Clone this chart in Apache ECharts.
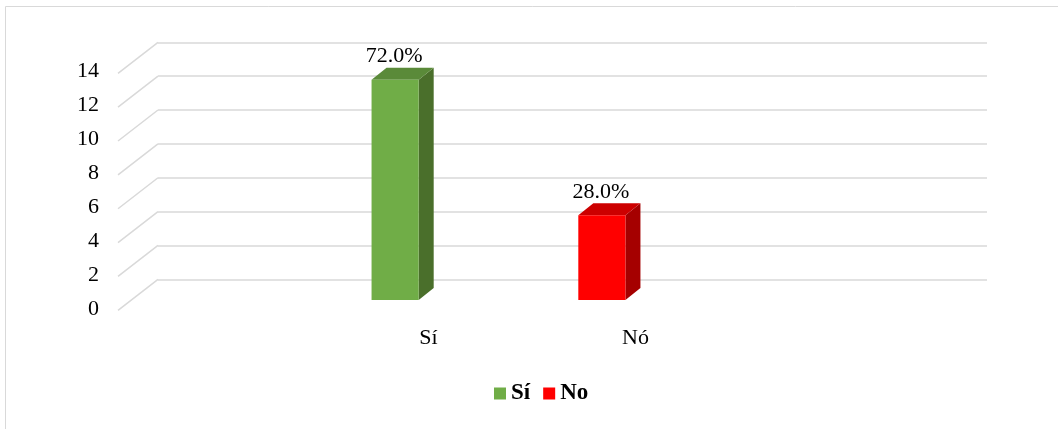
<!DOCTYPE html>
<html lang="es">
<head>
    <meta charset="UTF-8">
    <title>Sí / No</title>
    <style>
        html, body, #main {
            width: 100%;
            height: 100%;
            margin: 0;
            padding: 0;
            background: #fff;
        }
    </style>
    <script src="https://cdn.jsdelivr.net/npm/echarts@6/dist/echarts.min.js"></script>
</head>
<body>
    <div id="main"></div>
    <script>
        // data
        const categories = ['', 'Sí', 'Nó', ''];
        const seriesNames = ['Sí', 'No'];
        const siValues = [null, 13, null, null];
        const noValues = [null, null, 5, null];
        // percentages printed above the bars (as given in the source)
        const siPercent = [null, 72.0, null, null];
        const noPercent = [null, null, 28.0, null];
        const yTicks = [0, 2, 4, 6, 8, 10, 12, 14];

        const FONT = '"Liberation Serif", "Times New Roman", serif';

        // 3d look: depth offset of the wall and of the bars
        const wallDx = -40, wallDy = 31;
        const barDx = 15, barDy = -12;

        const toData = (vals, pcts) => vals
            .map((v, i) => v == null ? null : [i, v, pcts[i]])
            .filter(d => d);

        function bar3d(front, top, side) {
            return function (params, api) {
                const i = api.value(0), v = api.value(1);
                const p = api.coord([i, v]);
                const p0 = api.coord([i, 0]);
                const w = api.size([1, 0])[0] * 0.228;
                const l = p[0] - w / 2, r = p[0] + w / 2;
                const yt = p[1], yb = p0[1];
                const pct = api.value(2).toFixed(1) + '%';
                return {
                    type: 'group',
                    children: [
                        { type: 'polygon', shape: { points: [[r, yt], [r + barDx, yt + barDy], [r + barDx, yb + barDy], [r, yb]] },
                          style: { fill: side } },
                        { type: 'polygon', shape: { points: [[l, yt], [l + barDx, yt + barDy], [r + barDx, yt + barDy], [r, yt]] },
                          style: { fill: top } },
                        { type: 'rect', shape: { x: l, y: yt, width: w, height: yb - yt },
                          style: { fill: front } },
                        { type: 'text', x: p[0] - 1, y: yt + barDy,
                          style: { text: pct, fill: '#000', font: '22px ' + FONT, align: 'center', verticalAlign: 'bottom' } }
                    ]
                };
            };
        }

        var chart = echarts.init(document.getElementById('main'));

        var option = {
            animation: false,
            graphic: [{
                type: 'rect',
                shape: { x: 5.5, y: 6.5, width: 1200, height: 600 },
                style: { fill: 'none', stroke: '#d9d9d9', lineWidth: 1 },
                silent: true
            }],
            legend: {
                bottom: 19,
                left: 489,
                icon: 'rect',
                itemWidth: 12,
                itemHeight: 12,
                itemGap: 13,
                textStyle: { fontFamily: FONT, fontSize: 23, fontWeight: 'bold', color: '#000' },
                data: [
                    { name: seriesNames[0], itemStyle: { color: '#70ad47' } },
                    { name: seriesNames[1], itemStyle: { color: '#ff0000' } }
                ]
            },
            grid: [
                // back wall
                { left: 158, right: 71, top: 42.3, bottom: 149.7 },
                // front plane (axis labels)
                { left: 118, right: 112, top: 71.7, bottom: 119.7 },
                // bars plane
                { left: 85, right: 146, top: 62.7, bottom: 129 }
            ],
            xAxis: [0, 1, 2].map(g => ({
                type: 'category',
                gridIndex: g,
                data: categories,
                axisLine: { show: false },
                axisTick: { show: false },
                axisLabel: g === 1
                    ? { show: true, margin: 18, fontFamily: FONT, fontSize: 22, color: '#000' }
                    : { show: false }
            })),
            yAxis: [0, 1, 2].map(g => ({
                type: 'value',
                gridIndex: g,
                min: 0,
                max: 14,
                interval: 2,
                axisLine: { show: false },
                axisTick: { show: false },
                splitLine: { show: g === 0, lineStyle: { color: '#d9d9d9', width: 1.5 } },
                axisLabel: g === 1
                    ? { show: true, margin: 19, fontFamily: FONT, fontSize: 22, color: '#000' }
                    : { show: false }
            })),
            series: [
                {
                    type: 'custom',
                    name: 'wall',
                    xAxisIndex: 0,
                    yAxisIndex: 0,
                    silent: true,
                    clip: false,
                    data: yTicks.map(v => [0, v]),
                    renderItem: function (params, api) {
                        const y = api.coord([0, api.value(1)])[1];
                        const x = params.coordSys.x;
                        return {
                            type: 'line',
                            shape: { x1: x + wallDx, y1: y + wallDy, x2: x, y2: y },
                            style: { stroke: '#d9d9d9', lineWidth: 1.5 }
                        };
                    }
                },
                {
                    type: 'custom',
                    name: seriesNames[0],
                    xAxisIndex: 2,
                    yAxisIndex: 2,
                    clip: false,
                    itemStyle: { color: '#70ad47' },
                    data: toData(siValues, siPercent),
                    renderItem: bar3d('#70ad47', '#5a8a39', '#4a6f2b')
                },
                {
                    type: 'custom',
                    name: seriesNames[1],
                    xAxisIndex: 2,
                    yAxisIndex: 2,
                    clip: false,
                    itemStyle: { color: '#ff0000' },
                    data: toData(noValues, noPercent),
                    renderItem: bar3d('#ff0000', '#cc0000', '#a50000')
                }
            ]
        };

        chart.setOption(option);
    </script>
</body>
</html>
